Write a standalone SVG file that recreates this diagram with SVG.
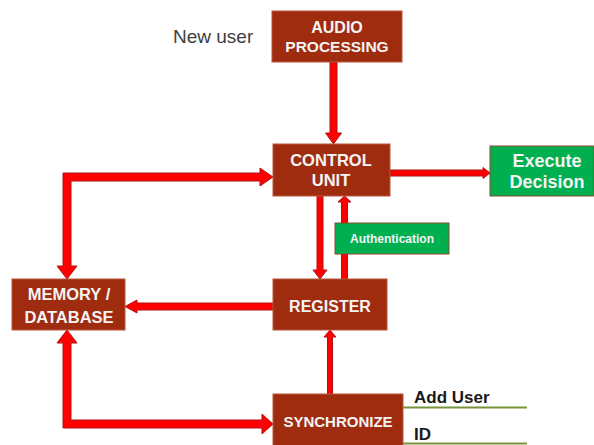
<svg xmlns="http://www.w3.org/2000/svg" width="594" height="445" viewBox="0 0 594 445">
<style>
.box{fill:#A02C10;stroke:#B9573C;stroke-width:1}
.gbox{fill:#00B050;stroke:#8B4A2B;stroke-width:1}
.t{font-family:"Liberation Sans",Arial,sans-serif;font-weight:bold;fill:#F4F4F4;text-anchor:middle}
.arr{fill:#FF0000;stroke:#B01515;stroke-width:1;stroke-linejoin:miter}
.gl{stroke:#77933C;stroke-width:2}
</style>
<rect width="594" height="445" fill="#FFFFFF"/>
<g id="connectors">
<polygon class="arr" points="330,62 337,62 337,133 341.5,133 333.5,144 325.5,133 330,133"/>
<polygon class="arr" points="390,170 483,170 483,167.5 490,173 483,178.5 483,176 390,176"/>
<polygon class="arr" points="63,173 260,173 260,168 273,177 260,186 260,181 71,181 71,266 77,266 67,279 57,266 63,266"/>
<polygon class="arr" points="317,196 323,196 323,270 327,270 320,279 313,270 317,270"/>
<polygon class="arr" points="341.5,279 347.5,279 347.5,202 351,202 344.5,196 338,202 341.5,202"/>
<polygon class="arr" points="273,303 137,303 137,300 125,306.5 137,313 137,310 273,310"/>
<polygon class="arr" points="327.5,394 332.5,394 332.5,337 336,337 330,330 324,337 327.5,337"/>
<polygon class="arr" points="67,330 77,343 71,343 71,420 262,420 262,414 273,424 262,434 262,428 63,428 63,343 57,343"/>
</g>
<g id="new-user">
<text x="173" y="43" font-family="'Liberation Sans',Arial,sans-serif" font-size="19" fill="#404040">New user</text>
</g>
<g id="audio-processing">
<rect class="box" x="272" y="11" width="130" height="51"/>
<text class="t" x="337" y="33" font-size="16">AUDIO</text>
<text class="t" x="337" y="52" font-size="15.5">PROCESSING</text>
</g>
<g id="control-unit">
<rect class="box" x="273" y="144" width="117" height="52"/>
<text class="t" x="331" y="166" font-size="16.5">CONTROL</text>
<text class="t" x="331" y="186" font-size="16.5">UNIT</text>
</g>
<g id="execute-decision">
<rect class="gbox" x="490" y="146" width="104" height="50"/>
<text class="t" x="547" y="167" font-size="18">Execute</text>
<text class="t" x="547" y="188" font-size="18">Decision</text>
</g>
<g id="authentication">
<rect class="gbox" x="335" y="223" width="114" height="31"/>
<text class="t" x="392" y="243" font-size="12">Authentication</text>
</g>
<g id="register">
<rect class="box" x="273" y="279" width="114" height="51"/>
<text class="t" x="330" y="312" font-size="16">REGISTER</text>
</g>
<g id="memory-database">
<rect class="box" x="12" y="279" width="113" height="51"/>
<text class="t" x="69" y="300" font-size="16.5">MEMORY /</text>
<text class="t" x="69" y="323" font-size="16.5">DATABASE</text>
</g>
<g id="synchronize">
<rect class="box" x="273" y="394" width="130" height="60"/>
<text class="t" x="338" y="427" font-size="15">SYNCHRONIZE</text>
</g>
<g id="fields">
<line class="gl" x1="403" y1="407.5" x2="527" y2="407.5"/>
<line class="gl" x1="403" y1="443.5" x2="527" y2="443.5"/>
<text x="414" y="403" font-family="'Liberation Sans',Arial,sans-serif" font-weight="bold" font-size="17" fill="#1A1A1A">Add User</text>
<text x="414" y="440" font-family="'Liberation Sans',Arial,sans-serif" font-weight="bold" font-size="17" fill="#1A1A1A">ID</text>
</g>
</svg>
